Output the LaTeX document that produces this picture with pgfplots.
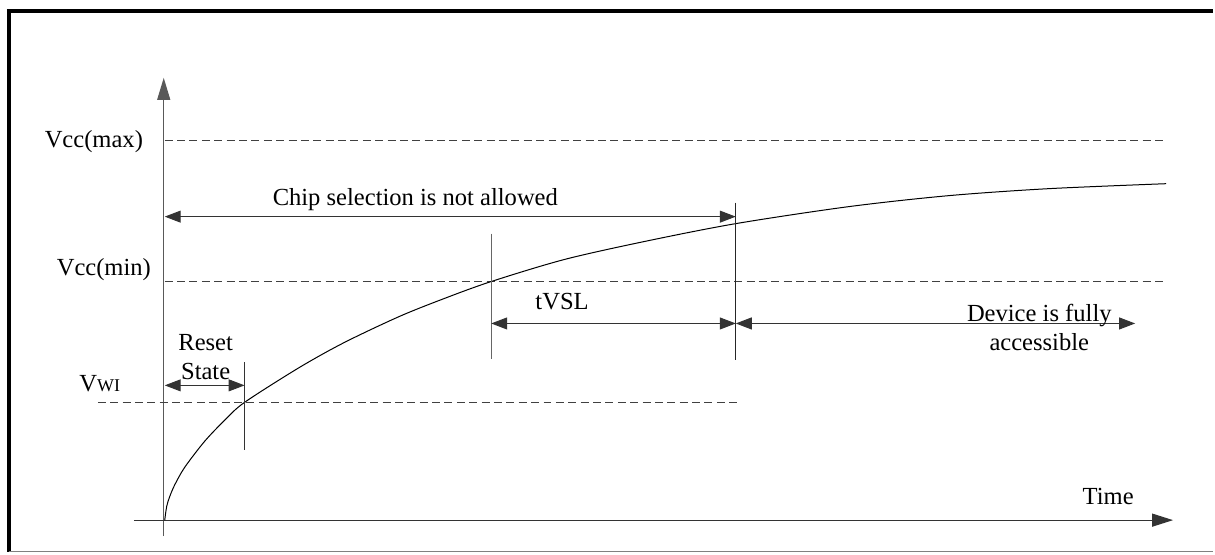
\documentclass[border=0pt]{standalone}
\usepackage{pgfplots}
\pgfplotsset{compat=1.18}
\usepackage{fontspec}
\setmainfont{Liberation Serif}
\usetikzlibrary{arrows.meta}
\tikzset{lbl/.style={font=\fontsize{12.3}{14.5}\selectfont, inner sep=0pt}}
\begin{document}
\begin{tikzpicture}
\begin{axis}[
  scale only axis, width=607.5pt, height=277pt,
  xmin=0, xmax=1215, ymin=0, ymax=554, y dir=reverse,
  axis lines=none, clip=false,
]
% page extent
\path[draw=none] (axis cs:0,0) rectangle (axis cs:1215,554);
% frame
\draw[line width=2pt, black] (axis cs:7,11) -- (axis cs:1215,11);
\draw[line width=2pt, black] (axis cs:9,10) -- (axis cs:9,553);
\draw[line width=0.7pt, gray] (axis cs:9,552.5) -- (axis cs:1215,552.5);
% axes
\draw[line width=0.6pt, gray!70!black, -{Triangle[length=11pt,width=6.5pt]}] (axis cs:164,537) -- (axis cs:164,78);
\draw[line width=0.6pt, black!80, -{Triangle[length=10.5pt,width=6.5pt]}] (axis cs:134,521) -- (axis cs:1175,521);
% dashed levels
\draw[line width=0.5pt, black!75, dash pattern=on 4pt off 2.2pt] (axis cs:165,141) -- (axis cs:1168,141);
\draw[line width=0.5pt, black!75, dash pattern=on 4pt off 2.2pt] (axis cs:165,282) -- (axis cs:1168,282);
\draw[line width=0.5pt, black!75, dash pattern=on 4pt off 2.2pt] (axis cs:98,403) -- (axis cs:738,403);
% curve
\addplot[smooth, line width=0.5pt, black, tension=0.5] coordinates {
 (165,521) (167,507.1) (170,497.4) (175,485.7) (185,468.1) (205,442)
 (225,421) (245,403) (300,368) (345,343) (400,317) (445,299) (492,282)
 (565,260) (645,242) (737,224) (850,207) (950,196) (1050,189) (1168,184)
};
% vertical markers
\draw[line width=0.6pt, black!80] (axis cs:245,363) -- (axis cs:245,451);
\draw[line width=0.6pt, gray!80!black] (axis cs:492,234) -- (axis cs:492,360);
\draw[line width=0.6pt, black!85] (axis cs:737,203) -- (axis cs:737,361);
% double arrows
\draw[line width=0.5pt, black!80, {Triangle[length=8pt,width=6pt]}-{Triangle[length=8pt,width=6pt]}] (axis cs:165,217) -- (axis cs:737,217);
\draw[line width=0.5pt, black!80, {Triangle[length=8pt,width=6pt]}-{Triangle[length=8pt,width=6pt]}] (axis cs:492,324) -- (axis cs:737,324);
\draw[line width=0.5pt, black!80, {Triangle[length=8pt,width=6pt]}-{Triangle[length=8pt,width=6pt]}] (axis cs:737,324) -- (axis cs:1137,324);
\draw[line width=0.5pt, black!80, {Triangle[length=8pt,width=6pt]}-{Triangle[length=8pt,width=6pt]}] (axis cs:165,386) -- (axis cs:245,386);
% labels
\node[lbl] at (axis cs:94,142) {Vcc(max)};
\node[lbl] at (axis cs:104,270) {Vcc(min)};
\node[lbl] at (axis cs:100,384) {V{\fontsize{9}{10}\selectfont WI}};
\node[lbl, align=center] at (axis cs:206,358) {Reset\\State};
\node[lbl] at (axis cs:416,200) {Chip selection is not allowed};
\node[lbl] at (axis cs:563,302) {tVSL};
\node[lbl, align=center] at (axis cs:1041,328) {Device is fully\\accessible};
\node[lbl] at (axis cs:1110,497) {Time};
\end{axis}
\end{tikzpicture}
\end{document}
